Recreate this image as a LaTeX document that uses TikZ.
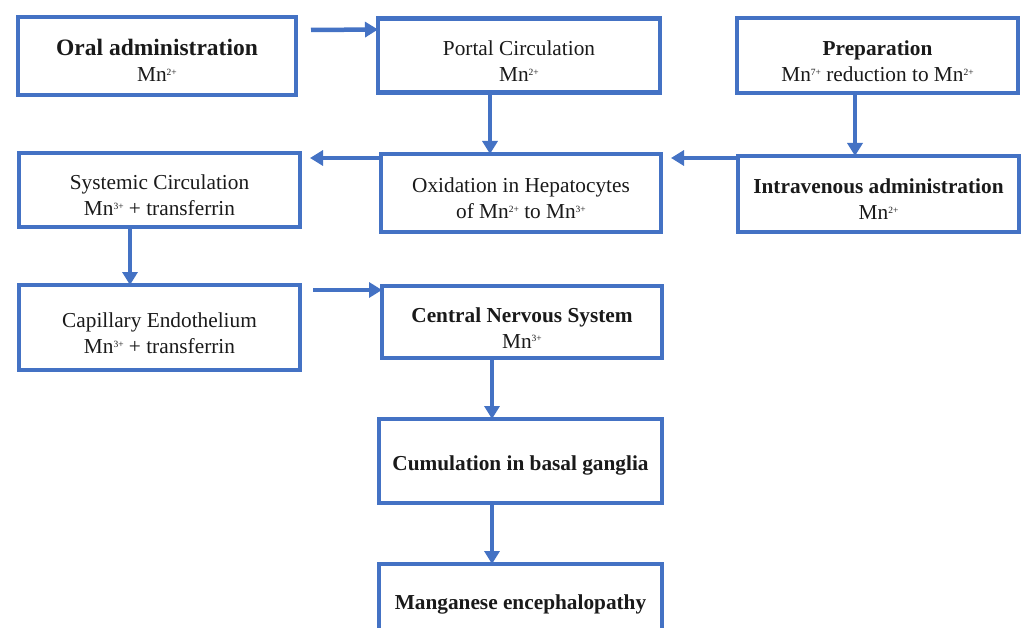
\documentclass[tikz,border=0pt]{standalone}
\usepackage{fontspec}
\setmainfont{Liberation Serif}
\usetikzlibrary{arrows.meta}
\definecolor{boxblue}{HTML}{4472C4}
\definecolor{txt}{HTML}{1A1A1A}
\newcommand{\sups}[1]{\raisebox{0.62ex}{\fontsize{9.5}{9.5}\selectfont #1}}
\newcommand{\tp}{\rule{0pt}{26pt}}
\begin{document}
\begin{tikzpicture}[x=1pt,y=-1pt,
  box/.style={draw=boxblue, line width=4.5pt, outer sep=0pt, inner sep=0pt,
    align=center, text=txt, font=\fontsize{21.3}{26}\selectfont},
  arr/.style={draw=boxblue, line width=4.5pt, -{Triangle[length=13pt,width=15pt]}}]
\useasboundingbox (0,0) rectangle (1027,628);
\clip (0,0) rectangle (1027,628);
\fill[white] (0,0) rectangle (1027,628);

\node[box, minimum width=278pt, minimum height=78pt] (b1) at (157,56)
  {\tp{\fontsize{23.5}{26}\selectfont\bfseries Oral administration}\\Mn\sups{2+}};
\node[box, minimum width=282pt, minimum height=74pt] (b2) at (519,55.5)
  {\tp Portal Circulation\\Mn\sups{2+}};
\node[box, minimum width=281pt, minimum height=75pt] (b3) at (877.5,55.5)
  {\tp{\bfseries Preparation}\\Mn\sups{7+} reduction to Mn\sups{2+}};
\node[box, minimum width=281pt, minimum height=74pt] (b4) at (159.5,190)
  {\tp Systemic Circulation\\Mn\sups{3+} + transferrin};
\node[box, minimum width=280pt, minimum height=78pt] (b5) at (521,193)
  {\tp Oxidation in Hepatocytes\\of Mn\sups{2+} to Mn\sups{3+}};
\node[box, minimum width=281pt, minimum height=76pt] (b6) at (878.5,194)
  {\tp{\bfseries Intravenous administration}\\Mn\sups{2+}};
\node[box, minimum width=281pt, minimum height=85pt] (b7) at (159.5,327.5)
  {\tp Capillary Endothelium\\Mn\sups{3+} + transferrin};
\node[box, minimum width=280pt, minimum height=72pt] (b8) at (522,322)
  {\tp{\bfseries Central Nervous System}\\Mn\sups{3+}};
\node[box, minimum width=283pt, minimum height=84pt] (b9) at (520.5,461)
  {\rule{0pt}{24pt}\bfseries Cumulation in basal ganglia};
\node[box, minimum width=283pt, minimum height=72pt] (b10) at (520.5,600)
  {\rule{0pt}{24pt}\bfseries Manganese encephalopathy};

\draw[arr] ([shift={(15,13)}]b1.north east) -- ([shift={(0,11)}]b2.north west);
\draw[arr] (b2.south -| 490,0) -- (b5.north -| 490,0);
\draw[arr] (b3.south -| 855,0) -- (b6.north -| 855,0);
\draw[arr] ([shift={(0,2)}]b6.north west) -- ([shift={(10,4)}]b5.north east);
\draw[arr] ([shift={(0,4)}]b5.north west) -- ([shift={(10,5)}]b4.north east);
\draw[arr] (b4.south -| 130,0) -- (b7.north -| 130,0);
\draw[arr] ([shift={(13,5)}]b7.north east) -- ([shift={(0,4)}]b8.north west);
\draw[arr] (b8.south -| 492,0) -- (b9.north -| 492,0);
\draw[arr] (b9.south -| 492,0) -- (b10.north -| 492,0);
\end{tikzpicture}
\end{document}
